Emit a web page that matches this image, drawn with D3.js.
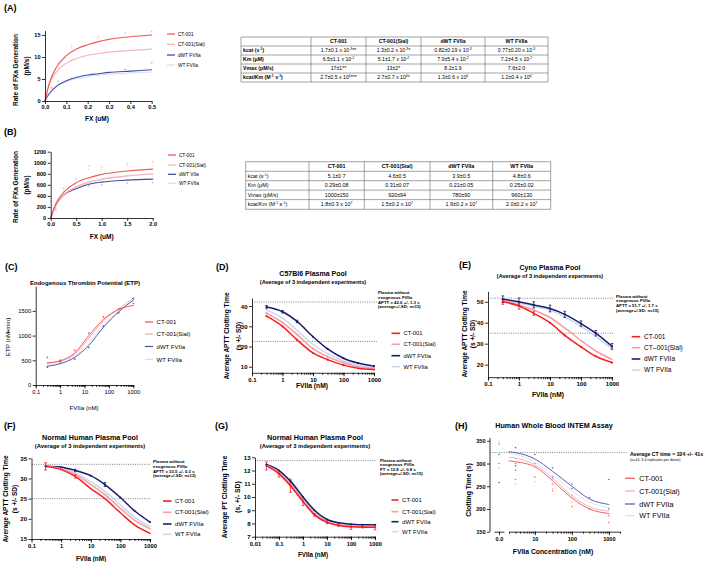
<!DOCTYPE html>
<html><head><meta charset="utf-8">
<script src="https://cdn.jsdelivr.net/npm/d3@7"></script>
<style>body{margin:0;background:#fff}svg{display:block}</style>
</head><body>
<svg id="chart" width="709" height="562"></svg>
<script>
// ---------------- DATA ----------------
const seriesNames = ["CT-001", "CT-001(Sial)", "dWT FVIIa", "WT FVIIa"];
const seriesNamesB = ["CT-001", "CT-001(Sial)", "dWT VIIa", "WT FVIIa"];
const seriesNamesE = ["CT-001", "CT--001(Sial)", "dWT FVIIa", "WT FVIIa"];

// Panel A (FX uM vs rate pM/s)
const aX = [0, 0.01, 0.02, 0.05, 0.1, 0.15, 0.2, 0.25, 0.3, 0.4, 0.5];
const aCT001 = [0, 2.2, 4.0, 7.4, 10.3, 11.9, 12.8, 13.5, 14.0, 14.6, 15.0];
const aSial = [0, 2.1, 3.7, 6.4, 8.6, 9.7, 10.4, 10.8, 11.1, 11.5, 11.8];
const aDWT = [0, 0.96, 1.65, 3.2, 4.6, 5.4, 5.9, 6.2, 6.5, 6.8, 7.1];
const aWT = [0, 0.93, 1.65, 3.1, 4.4, 5.1, 5.5, 5.9, 6.1, 6.4, 6.6];
const aPtX = [0.0156, 0.031, 0.0625, 0.125, 0.25, 0.375, 0.5];
const aPtCT001 = [3.5, 5.6, 8.6, 12.4, 14.6, 15.4, 15.8];
const aPtSial = [3.0, 5.0, 7.5, 9.2, 11.4, 13.0, 13.8];
const aPtDWT = [1.5, 3.0, 4.5, 5.1, 5.8, 7.2, 8.7];
const aPtWT = [1.4, 2.8, 4.0, 5.5, 6.5, 6.0, 5.8];

// Panel B
const bX = [0, 0.1, 0.25, 0.5, 0.75, 1.0, 1.5, 2.0];
const bCT001 = [0, 260, 460, 640, 730, 790, 850, 885];
const bSial = [0, 224, 411, 568, 650, 705, 762, 797];
const bDWT = [0, 230, 410, 530, 610, 650, 685, 703];
const bWT = [0, 240, 420, 551, 635, 690, 760, 805];
const bPtX = [0.1, 0.25, 0.5, 0.75, 1.0, 1.5, 2.0];
const bPtCT001 = [150, 540, 720, 940, 930, 980, 1010];
const bPtSial = [180, 500, 690, 880, 880, 940, 950];
const bPtDWT = [150, 420, 560, 580, 600, 630, 640];
const bPtWT = [200, 470, 600, 700, 720, 800, 760];

// Tables
const tabHeader = ["CT-001", "CT-001(Sial)", "dWT FVIIa", "WT FVIIa"];
const tabRowLabels = ["kcat (s^{-1})", "Km (\u03bcM)", "Vmax (pM/s)", "kcat/Km (M^{-1} s^{-1})"];
const tabAKcat = ["1.7\u00b10.1 x 10^{-3}**", "1.3\u00b10.2 x 10^{-3}*", "0.82\u00b10.19 x 10^{-3}", "0.77\u00b10.20 x 10^{-3}"];
const tabAKm = ["6.5\u00b11.1 x 10^{-2}", "5.1\u00b11.7 x 10^{-2}", "7.9\u00b15.4 x 10^{-2}", "7.2\u00b14.5 x 10^{-2}"];
const tabAVmax = ["17\u00b11**", "13\u00b12*", "8.2\u00b11.9", "7.6\u00b12.0"];
const tabAEff = ["2.7\u00b10.5 x 10^{4}***", "2.7\u00b10.7 x 10^{4}*", "1.3\u00b10.6 x 10^{4}", "1.2\u00b10.4 x 10^{4}"];
const tabBKcat = ["5.1\u00b10.7", "4.6\u00b10.5", "3.9\u00b10.5", "4.8\u00b10.6"];
const tabBKm = ["0.29\u00b10.08", "0.31\u00b10.07", "0.21\u00b10.05", "0.25\u00b10.02"];
const tabBVmax = ["1000\u00b1150", "920\u00b194", "780\u00b190", "960\u00b1130"];
const tabBEff = ["1.8\u00b10.3 x 10^{7}", "1.5\u00b10.2 x 10^{7}", "1.9\u00b10.2 x 10^{7}", "2.0\u00b10.2 x 10^{7}"];

// Panel C (ETP)
const cX = [0.3, 1, 4, 15, 60, 250, 1000];
const cCT001 = [450, 490, 650, 1000, 1330, 1530, 1610];
const cSial = [440, 480, 620, 950, 1300, 1540, 1760];
const cDWT = [380, 430, 560, 800, 1170, 1480, 1720];
const cWT = [400, 440, 580, 840, 1210, 1500, 1700];
const cPtCT001 = [560, 500, 700, 1050, 1380, 1540, 1650];
const cPtDWT = [360, 470, 520, 760, 1190, 1460, 1750];

// Panel D (C57Bl6 APTT)
const dX = [0.3, 1, 3, 10, 30, 100, 300, 1000];
const dCT001 = [35, 30, 23.3, 16.8, 13.5, 10.8, 9.3, 8.6];
const dSial = [36.5, 31.8, 26, 19, 15, 12, 10, 9.2];
const dDWT = [39.5, 37.2, 32.4, 24.8, 18.8, 14.2, 11.8, 10.3];
const dWTv = [38, 34, 28, 21, 16.5, 12.8, 10.8, 9.6];
const dErrDWT = [0.8, 0.6, 0.6, 0, 0, 0, 0, 0];

// Panel E (Cyno APTT)
const eX = [0.3, 1, 3, 10, 30, 100, 300, 1000];
const eCT001 = [50, 48, 44.5, 40, 34, 28.5, 24, 21];
const eSial = [50.5, 48.5, 46, 42.5, 37.5, 31.5, 26.5, 22.5];
const eDWT = [51.2, 50, 48.5, 46.8, 44, 39.6, 35, 28.7];
const eWT = [50.6, 49.4, 47.8, 46, 42.8, 38.3, 33.5, 27.5];
const eErrDWT = [1.6, 1.8, 1.5, 1.6, 1.5, 1.3, 1.3, 1.4];
const eErrCT001 = [1.2, 1.5, 1.0, 0, 0, 0, 0, 0];

// Panel F (Human APTT)
const fX = [0.3, 1, 3, 10, 30, 100, 300, 1000];
const fCT001 = [33, 32.2, 30.5, 27.5, 25, 21.5, 18.5, 16.4];
const fSial = [33, 32.4, 31, 28.5, 26, 22.6, 19.7, 17.5];
const fDWT = [33, 32.8, 32, 30.7, 28.5, 25.3, 22, 19.2];
const fWT = [33, 32.6, 31.4, 29.2, 26.8, 23.5, 20.4, 18];
const fErrCT001 = [0.9, 0, 0.4, 0, 0, 0, 0, 0];
const fErrDWT = [0, 0, 0.3, 0, 0.5, 0, 0, 0];

// Panel G (Human PT)
const gX = [0.03, 0.1, 0.3, 1, 3, 10, 30, 100, 300, 1000];
const gCT001 = [12.35, 11.75, 10.85, 9.65, 8.65, 8.08, 7.85, 7.75, 7.72, 7.72];
const gSial = [12.4, 11.85, 10.95, 9.75, 8.75, 8.15, 7.9, 7.8, 7.78, 7.78];
const gDWT = [12.45, 12.0, 11.2, 10.0, 9.0, 8.3, 8.05, 7.95, 7.9, 7.9];
const gWT = [12.42, 11.92, 11.1, 9.9, 8.9, 8.25, 8.0, 7.9, 7.85, 7.85];
const gErrCT001 = [0.3, 0.25, 0.5, 0.3, 0.1, 0.1, 0.05, 0.2, 0.05, 0.2];

// Panel H (Whole blood INTEM)
const hX = [2, 3, 10, 30, 100, 300, 1000];
const hCT001 = [306, 304, 293, 262, 224, 200, 190];
const hSial = [314, 312, 297, 268, 229, 205, 195];
const hDWT = [326, 324, 310, 283, 250, 222, 210];
const hWT = [322, 320, 303, 275, 240, 215, 203];
const hPtXCT001 = [0, 0, 3, 3, 3, 10, 10, 30, 30, 100, 100, 300, 1000, 1000];
const hPtYCT001 = [343, 300, 300, 285, 265, 300, 270, 255, 240, 230, 205, 200, 185, 170];
const hPtXSial = [0, 0, 3, 3, 10, 10, 30, 30, 100, 100, 300, 1000];
const hPtYSial = [348, 290, 310, 255, 290, 260, 265, 245, 225, 215, 200, 190];
const hPtXDWT = [0, 0, 3, 3, 10, 30, 30, 100, 100, 300, 1000, 1000];
const hPtYDWT = [258, 320, 335, 295, 320, 290, 270, 255, 245, 225, 265, 200];

// ---------------- HELPERS ----------------
const FONT = "'Liberation Sans', Arial, Helvetica, sans-serif";
const svg = d3.select("#chart");

function rich(t, str, fs) {
  const parts = String(str).split(/(\^\{[^}]*\})/);
  let up = false;
  parts.forEach(p => {
    if (!p) return;
    const m = p.match(/^\^\{(.*)\}$/);
    if (m) { t.append("tspan").attr("font-size", fs * 0.65).attr("dy", -fs * 0.38).text(m[1]); up = true; }
    else { const s = t.append("tspan").text(p); if (up) { s.attr("dy", fs * 0.38); up = false; } }
  });
}
function T(g, x, y, s, fs, o = {}) {
  const t = g.append("text").attr("x", x).attr("y", y).attr("dy", "0.35em")
    .attr("font-size", fs).attr("font-family", FONT)
    .attr("font-weight", o.bold ? "bold" : "normal")
    .attr("text-anchor", o.anchor || "start").attr("fill", o.fill || "#000");
  rich(t, s, fs);
  return t;
}
function V(g, x, y, s, fs, bold) {
  return g.append("text").attr("transform", `translate(${x},${y}) rotate(-90)`).attr("dy", "0.35em")
    .attr("text-anchor", "middle").attr("font-size", fs).attr("font-family", FONT)
    .attr("font-weight", bold ? "bold" : "normal").text(s);
}
function styleAx(a, fs) {
  a.attr("font-family", FONT);
  a.selectAll("path, line").attr("stroke", "#000").attr("stroke-width", 0.8);
  a.selectAll("text").attr("font-size", fs).attr("font-weight", "bold").attr("font-family", FONT).attr("fill", "#000");
}
function yAx(g, y, x0, ticks, fs, fmt) {
  const a = g.append("g").attr("transform", `translate(${x0},0)`)
    .call(d3.axisLeft(y).tickValues(ticks).tickSize(3).tickSizeOuter(0).tickPadding(1.5).tickFormat(fmt || d3.format("d")));
  styleAx(a, fs); return a;
}
function xLin(g, x, y0, ticks, fs, fmt) {
  const a = g.append("g").attr("transform", `translate(0,${y0})`)
    .call(d3.axisBottom(x).tickValues(ticks).tickSize(3).tickSizeOuter(0).tickPadding(1.5).tickFormat(fmt));
  styleAx(a, fs); return a;
}
function xLog(g, x, y0, majors, fs) {
  const [d0, d1] = x.domain();
  const minors = [];
  for (let e = Math.floor(Math.log10(d0) + 1e-9); e <= Math.ceil(Math.log10(d1)); e++)
    for (let k = 1; k < 10; k++) { const v = k * Math.pow(10, e); if (v >= d0 * 0.999 && v <= d1 * 1.001) minors.push(v); }
  const m = g.append("g").attr("transform", `translate(0,${y0})`)
    .call(d3.axisBottom(x).tickValues(minors).tickSize(2).tickSizeOuter(0).tickFormat(""));
  styleAx(m, fs);
  const a = g.append("g").attr("transform", `translate(0,${y0})`)
    .call(d3.axisBottom(x).tickValues(majors).tickSize(3.5).tickSizeOuter(0).tickPadding(1.5)
      .tickFormat(d => String(+d.toPrecision(6))));
  styleAx(a, fs); a.select(".domain").remove();
  return a;
}
function curve(g, x, y, xs, ys, c, w) {
  g.append("path").datum(xs.map((d, i) => [d, ys[i]]))
    .attr("d", d3.line().x(d => x(d[0])).y(d => y(d[1])).curve(d3.curveMonotoneX))
    .attr("fill", "none").attr("stroke", c).attr("stroke-width", w).attr("stroke-linejoin", "round").attr("stroke-linecap", "round");
}
function crosses(g, x, y, xs, ys, c, s, w) {
  xs.forEach((d, i) => {
    const px = x(d), py = y(ys[i]);
    g.append("path").attr("d", `M${px - s},${py}H${px + s}M${px},${py - s}V${py + s}`).attr("stroke", c).attr("stroke-width", w || 0.7);
  });
}
function dots(g, x, y, xs, ys, c, r) {
  xs.forEach((d, i) => g.append("circle").attr("cx", x(d)).attr("cy", y(ys[i])).attr("r", r).attr("fill", c));
}
function errs(g, x, y, xs, ys, es, c, cap, w) {
  xs.forEach((d, i) => {
    if (!es[i]) return;
    const px = x(d), a = y(ys[i] - es[i]), b = y(ys[i] + es[i]);
    g.append("path").attr("d", `M${px},${a}V${b}M${px - cap},${a}H${px + cap}M${px - cap},${b}H${px + cap}`)
      .attr("stroke", c).attr("stroke-width", w || 0.8).attr("fill", "none");
  });
}
function legend(g, x, ys, labels, cols, len, fs, w) {
  labels.forEach((l, i) => {
    g.append("line").attr("x1", x).attr("x2", x + len).attr("y1", ys[i]).attr("y2", ys[i])
      .attr("stroke", cols[i]).attr("stroke-width", w);
    T(g, x + len + fs * 0.6, ys[i], l, fs);
  });
}
function dash(g, x1, x2, yy) {
  g.append("line").attr("x1", x1).attr("x2", x2).attr("y1", yy).attr("y2", yy)
    .attr("stroke", "#333").attr("stroke-width", 0.6).attr("stroke-dasharray", "1,1.3");
}
function note(g, x, y0, lines, fs, gap) { lines.forEach((l, i) => T(g, x, y0 + i * gap, l, fs, { bold: true })); }
function table(g, colsX, rowsY, header, labels, rows, fs, labelBold) {
  const gr = g.append("g").attr("stroke", "#666").attr("stroke-width", 0.6);
  colsX.forEach(cx => gr.append("line").attr("x1", cx).attr("x2", cx).attr("y1", rowsY[0]).attr("y2", rowsY[rowsY.length - 1]));
  rowsY.forEach(ry => gr.append("line").attr("x1", colsX[0]).attr("x2", colsX[colsX.length - 1]).attr("y1", ry).attr("y2", ry));
  const midC = j => (colsX[j] + colsX[j + 1]) / 2, midR = i => (rowsY[i] + rowsY[i + 1]) / 2;
  header.forEach((h, j) => T(g, midC(j + 1), midR(0), h, fs, { bold: true, anchor: "middle" }));
  labels.forEach((l, i) => T(g, colsX[0] + 2, midR(i + 1), l, fs, { bold: labelBold }));
  rows.forEach((row, i) => row.forEach((c, j) => T(g, midC(j + 1), midR(i + 1), c, fs, { anchor: "middle" })));
}

// ---------------- PANEL A ----------------
{
  const g = svg.append("g");
  const col = ["#f55656", "#f8b3ba", "#4a4c9e", "#d3e2f3"];
  T(g, 4, 8, "(A)", 9, { bold: true });
  const x = d3.scaleLinear().domain([0, 0.5]).range([45, 151.7]);
  const y = d3.scaleLinear().domain([0, 16]).range([101, 30.6]);
  const pg = g.append("g").attr("opacity", 0.55);
  [aPtWT, aPtDWT, aPtSial, aPtCT001].forEach((p, i) => crosses(pg, x, y, aPtX, p, col[3 - i], 0.9, 0.5));
  curve(g, x, y, aX, aWT, col[3], 1.1);
  curve(g, x, y, aX, aDWT, col[2], 1.1);
  curve(g, x, y, aX, aSial, col[1], 1.1);
  curve(g, x, y, aX, aCT001, col[0], 1.1);
  yAx(g, y, 45, [0, 5, 10, 15], 5.6);
  xLin(g, x, 101, [0, 0.1, 0.2, 0.3, 0.4, 0.5], 5.6, d3.format(".1f"));
  T(g, 97, 118.5, "FX (uM)", 6.5, { bold: true, anchor: "middle" });
  V(g, 16, 70, "Rate of FXa Generation", 6.5, true);
  V(g, 26.5, 66, "(pM/s)", 6.5, true);
  legend(g, 167, [34, 44.3, 55, 65], seriesNames, col, 8, 4.8, 1.3);
  table(g, [241, 311, 366, 421, 485, 548], [37, 46, 55, 64, 73, 82], tabHeader, tabRowLabels,
    [tabAKcat, tabAKm, tabAVmax, tabAEff], 5.2, true);
}

// ---------------- PANEL B ----------------
{
  const g = svg.append("g");
  const col = ["#f55656", "#f8b3ba", "#4a4c9e", "#d3e2f3"];
  T(g, 4, 132, "(B)", 9, { bold: true });
  const x = d3.scaleLinear().domain([0, 2]).range([50.7, 152.7]);
  const y = d3.scaleLinear().domain([0, 1200]).range([218, 151.7]);
  const pg = g.append("g").attr("opacity", 0.55);
  [bPtWT, bPtDWT, bPtSial, bPtCT001].forEach((p, i) => crosses(pg, x, y, bPtX, p, col[3 - i], 0.9, 0.5));
  curve(g, x, y, bX, bWT, col[3], 1.1);
  curve(g, x, y, bX, bDWT, col[2], 1.1);
  curve(g, x, y, bX, bSial, col[1], 1.1);
  curve(g, x, y, bX, bCT001, col[0], 1.1);
  yAx(g, y, 50.7, [0, 200, 400, 600, 800, 1000, 1200], 5.6);
  xLin(g, x, 218, [0, 0.5, 1, 1.5, 2], 5.6, d3.format(".1f"));
  T(g, 101.7, 236.5, "FX (uM)", 6.5, { bold: true, anchor: "middle" });
  V(g, 16, 187, "Rate of FXa Generation", 6.5, true);
  V(g, 26.5, 185, "(pM/s)", 6.5, true);
  legend(g, 168, [155, 165, 174.3, 183.3], seriesNamesB, col, 8, 4.8, 1.3);
  table(g, [245.7, 309, 364.3, 430, 492.7, 550.7], [161.7, 171.3, 180.7, 190.1, 199.6, 209.3], tabHeader, tabRowLabels,
    [tabBKcat, tabBKm, tabBVmax, tabBEff], 5.4, false);
}

// ---------------- PANEL C ----------------
{
  const g = svg.append("g");
  const col = ["#f24b4b", "#f7a3ab", "#4c4fa3", "#cddff2"];
  T(g, 5, 267, "(C)", 9, { bold: true });
  T(g, 85, 283, "Endogenous Thrombin Potential (ETP)", 6, { bold: true, anchor: "middle" });
  const x = d3.scaleLog().domain([0.1, 1000]).range([35.7, 133.3]);
  const y = d3.scaleLinear().domain([0, 2000]).range([385, 286.2]);
  curve(g, x, y, cX, cWT, col[3], 0.9);
  curve(g, x, y, cX, cDWT, col[2], 0.9);
  curve(g, x, y, cX, cSial, col[1], 0.9);
  curve(g, x, y, cX, cCT001, col[0], 0.9);
  crosses(g, x, y, cX, cPtCT001, col[0], 1);
  crosses(g, x, y, cX, cPtDWT, col[2], 1);
  yAx(g, y, 35.7, [0, 500, 1000, 1500], 5.8).selectAll("text").attr("font-weight", "normal");
  xLog(g, x, 385, [0.1, 1, 10, 100, 1000], 5.8).selectAll("text").attr("font-weight", "normal");
  T(g, 84, 407.5, "FVIIa (nM)", 6.2, { anchor: "middle" });
  V(g, 7.5, 337, "ETP (nM\u2022min)", 6.2, false);
  legend(g, 145, [322, 334, 346.5, 359.5], seriesNames, col, 8, 6, 1.2);
}

// ---------------- PANEL D ----------------
{
  const g = svg.append("g");
  const col = ["#f71e22", "#f59ca4", "#1b1c6e", "#c3daf2"];
  T(g, 216, 267, "(D)", 9, { bold: true });
  T(g, 313, 274, "C57Bl6 Plasma Pool", 7, { bold: true, anchor: "middle" });
  T(g, 313, 282, "(Average of 3 independent experiments)", 5.6, { bold: true, anchor: "middle" });
  const x = d3.scaleLog().domain([0.1, 1000]).range([252, 374]);
  const y = d3.scaleLinear().domain([7, 44]).range([372.8, 298]);
  dash(g, 252, 377, y(42));
  dash(g, 252, 377, y(22.5));
  curve(g, x, y, dX, dWTv, col[3], 1.5);
  curve(g, x, y, dX, dDWT, col[2], 1.5);
  curve(g, x, y, dX, dSial, col[1], 1.5);
  curve(g, x, y, dX, dCT001, col[0], 1.5);
  dots(g, x, y, dX, dDWT, col[2], 1.1);
  dots(g, x, y, dX, dCT001, col[0], 1.1);
  dots(g, x, y, dX, dSial, col[1], 1.1);
  errs(g, x, y, dX, dDWT, dErrDWT, col[2], 1.2);
  yAx(g, y, 252, [10, 20, 30, 40], 6);
  xLog(g, x, 372.8, [0.1, 1, 10, 100, 1000], 6);
  T(g, 312, 385.5, "FVIIa (nM)", 6.7, { bold: true, anchor: "middle" });
  V(g, 227, 336, "Average APTT Clotting Time", 6.5, true);
  V(g, 238.5, 336, "(s +/- SD)", 6.5, true);
  note(g, 378, 292.7, ["Plasma without", "exogenous FVIIa", "APTT = 42.0 +/- 1.3 s", "(average+/-SD; n=15)"], 4.3, 4.7);
  legend(g, 391.5, [333.3, 344.3, 355.7, 366.7], seriesNames, col, 8.5, 5.8, 1.6);
}

// ---------------- PANEL E ----------------
{
  const g = svg.append("g");
  const col = ["#f71e22", "#f59ca4", "#1b1c6e", "#c3daf2"];
  T(g, 459, 264.5, "(E)", 9, { bold: true });
  T(g, 550, 268, "Cyno Plasma Pool", 7, { bold: true, anchor: "middle" });
  T(g, 550, 276, "(Average of 3 independent experiments)", 5.6, { bold: true, anchor: "middle" });
  const x = d3.scaleLog().domain([0.1, 1000]).range([488, 612]);
  const y = d3.scaleLinear().domain([14, 55]).range([377.2, 291.3]);
  dash(g, 488, 614, y(51.7));
  dash(g, 488, 614, y(35));
  curve(g, x, y, eX, eWT, col[3], 1.5);
  curve(g, x, y, eX, eDWT, col[2], 1.5);
  curve(g, x, y, eX, eSial, col[1], 1.5);
  curve(g, x, y, eX, eCT001, col[0], 1.5);
  errs(g, x, y, eX, eDWT, eErrDWT, col[2], 1.3);
  errs(g, x, y, eX, eCT001, eErrCT001, col[0], 1.3);
  dots(g, x, y, eX, eDWT, col[2], 1.1);
  dots(g, x, y, eX, eCT001, col[0], 1.1);
  yAx(g, y, 488, [20, 30, 40, 50], 6);
  xLog(g, x, 377.2, [0.1, 1, 10, 100, 1000], 6);
  T(g, 548, 395, "FVIIa (nM)", 6.7, { bold: true, anchor: "middle" });
  V(g, 464.5, 334, "Average APTT Clotting Time", 6.5, true);
  V(g, 472.5, 334, "(s +/- SD)", 6.5, true);
  note(g, 616, 296, ["Plasma without", "exogenous FVIIa", "APTT = 51.7 +/- 1.7 s", "(average+/-SD; n=15)"], 4.3, 4.7);
  legend(g, 631.7, [336.7, 347.7, 359, 370], seriesNamesE, col, 8.5, 6.5, 1.6);
}

// ---------------- PANEL F ----------------
{
  const g = svg.append("g");
  const col = ["#f71e22", "#f59ca4", "#1b1c6e", "#c3daf2"];
  T(g, 4, 426, "(F)", 9, { bold: true });
  T(g, 90, 437.7, "Normal Human Plasma Pool", 7.2, { bold: true, anchor: "middle" });
  T(g, 90, 445.7, "(Average of 3 independent experiments)", 5.8, { bold: true, anchor: "middle" });
  const x = d3.scaleLog().domain([0.1, 1000]).range([31.5, 150]);
  const y = d3.scaleLinear().domain([15, 35]).range([539, 458.3]);
  dash(g, 31.5, 151, y(33.5));
  dash(g, 31.5, 151, y(25));
  curve(g, x, y, fX, fWT, col[3], 1.5);
  curve(g, x, y, fX, fDWT, col[2], 1.5);
  curve(g, x, y, fX, fSial, col[1], 1.5);
  curve(g, x, y, fX, fCT001, col[0], 1.5);
  errs(g, x, y, fX, fDWT, fErrDWT, col[2], 1.2);
  errs(g, x, y, fX, fCT001, fErrCT001, col[0], 1.5);
  dots(g, x, y, fX, fDWT, col[2], 1);
  yAx(g, y, 31.5, [15, 20, 25, 30, 35], 6);
  xLog(g, x, 539, [0.1, 1, 10, 100, 1000], 5.8);
  T(g, 91, 559, "FVIIa (nM)", 6.3, { bold: true, anchor: "middle" });
  V(g, 5.5, 499, "Average APTT Clotting Time", 6.5, true);
  V(g, 15, 499, "(s +/- SD)", 6.5, true);
  note(g, 153, 461.5, ["Plasma without", "exogenous FVIIa", "APTT = 33.5 +/- 0.3 s", "(average+/-SD; n=12)"], 4.3, 4.8);
  legend(g, 163, [501, 512.3, 524, 534.3], seriesNames, col, 8.5, 6, 1.6);
}

// ---------------- PANEL G ----------------
{
  const g = svg.append("g");
  const col = ["#f71e22", "#f59ca4", "#1b1c6e", "#c3daf2"];
  T(g, 215, 426, "(G)", 9, { bold: true });
  T(g, 315, 437.7, "Normal Human Plasma Pool", 7.2, { bold: true, anchor: "middle" });
  T(g, 315, 445.7, "(Average of 3 independent experiments)", 5.8, { bold: true, anchor: "middle" });
  const x = d3.scaleLog().domain([0.01, 1000]).range([255, 375]);
  const y = d3.scaleLinear().domain([7, 13]).range([536.7, 457.3]);
  dash(g, 255, 377, y(12.75));
  curve(g, x, y, gX, gWT, col[3], 1.5);
  curve(g, x, y, gX, gDWT, col[2], 1.5);
  curve(g, x, y, gX, gSial, col[1], 1.5);
  curve(g, x, y, gX, gCT001, col[0], 1.5);
  errs(g, x, y, gX, gCT001, gErrCT001, col[0], 1.3);
  dots(g, x, y, gX, gDWT, col[2], 1);
  dots(g, x, y, gX, gCT001, col[0], 1);
  yAx(g, y, 255, [7, 8, 9, 10, 11, 12, 13], 6);
  xLog(g, x, 536.7, [0.01, 0.1, 1, 10, 100, 1000], 5.8);
  T(g, 313, 554.5, "FVIIa (nM)", 6.3, { bold: true, anchor: "middle" });
  V(g, 224.5, 497, "Average PT Clotting Time", 6.8, true);
  V(g, 238, 497, "(s, +/- SD)", 6.8, true);
  note(g, 380, 460, ["Plasma without", "exogenous FVIIa", "PT = 12.8 +/- 0.8 s", "(average+/-SD; n=15)"], 4.3, 4.5);
  legend(g, 391.5, [500, 511.7, 521.7, 531.7], seriesNames, col, 7, 6, 1.6);
}

// ---------------- PANEL H ----------------
{
  const g = svg.append("g");
  const col = ["#f46262", "#f7b2b8", "#5d5fb0", "#dae6f5"];
  T(g, 455, 426, "(H)", 9, { bold: true });
  T(g, 554, 425.5, "Human Whole Blood INTEM Assay", 7.2, { bold: true, anchor: "middle" });
  const x = d3.scaleLog().domain([2, 2000]).range([509, 620]);
  const zeroX = 499;
  const hx = d => d === 0 ? zeroX : x(d);
  const y = d3.scaleLinear().domain([150, 350]).range([531.7, 440.8]);
  dash(g, 490, 627, y(324));
  dots(g, hx, y, hPtXDWT, hPtYDWT, col[2], 0.8);
  dots(g, hx, y, hPtXSial, hPtYSial, col[1], 0.8);
  dots(g, hx, y, hPtXCT001, hPtYCT001, col[0], 0.8);
  curve(g, x, y, hX, hWT, col[3], 1);
  curve(g, x, y, hX, hDWT, col[2], 1);
  curve(g, x, y, hX, hSial, col[1], 1);
  curve(g, x, y, hX, hCT001, col[0], 1);
  const ya = yAx(g, y, 490, [150, 200, 250, 300, 350], 5.6);
  ya.select(".domain").attr("d", `M0,${y(150)}V${y(356)}`);
  xLog(g, x, 531.7, [10, 100, 1000], 5.6);
  const zs = g.append("g").attr("transform", "translate(0,531.7)")
    .call(d3.axisBottom(d3.scaleLinear().domain([-1, 1]).range([zeroX - 5, zeroX + 5])).tickValues([0]).tickSize(3.5).tickSizeOuter(0).tickPadding(1.5));
  styleAx(zs, 5.6);
  T(g, 553, 551.7, "FVIIa Concentration (nM)", 6.8, { bold: true, anchor: "middle" });
  V(g, 468.5, 490, "Clotting Time (s)", 6.8, true);
  T(g, 630, 454, "Average CT time = 324 +/- 41s", 5.2, { bold: true });
  T(g, 630, 459.5, "(n=14, 3-4 replicates per donor)", 3.6, {});
  legend(g, 625, [478.3, 491, 504, 515.7], seriesNames, col, 10, 7.2, 1.3);
}
</script>
</body></html>
